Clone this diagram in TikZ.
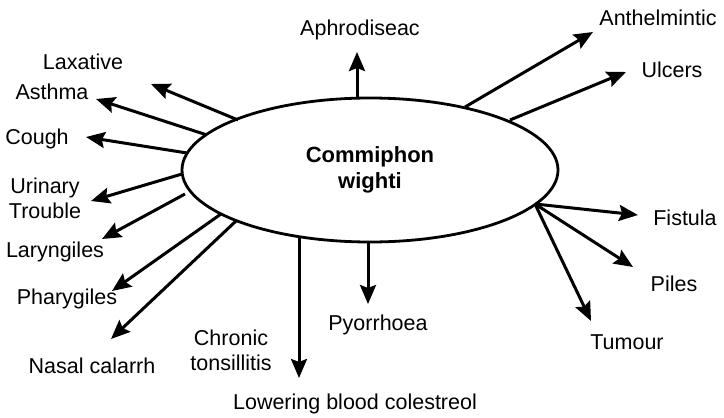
\documentclass[tikz,border=0pt]{standalone}
\usepackage{fontspec}
\setmainfont{Liberation Sans}
\usetikzlibrary{shapes.geometric,arrows.meta}
\begin{document}
\begin{tikzpicture}[x=1pt,y=-1pt,
  lbl/.style={font=\fontsize{21.5}{25}\selectfont, align=center, inner sep=0pt},
  arr/.style={line width=3pt, -{Stealth[length=19pt,width=16pt,inset=3pt]}},
  hub/.style={ellipse, draw, line width=2.8pt, minimum width=376pt, minimum height=144pt, inner sep=0pt,
              font=\bfseries\fontsize{22}{26}\selectfont, align=center}]
\useasboundingbox (0,0) rectangle (724,418);
\node[hub] (E) at (370,170) {Commiphon\\wighti};

% labels
\node[lbl] (aph) at (360,30) {Aphrodiseac};
\node[lbl] (ant) at (658,18) {Anthelmintic};
\node[lbl] (ulc) at (672,70) {Ulcers};
\node[lbl] (fis) at (685,218) {Fistula};
\node[lbl] (pil) at (674,284) {Piles};
\node[lbl] (tum) at (627,342) {Tumour};
\node[lbl] (pyo) at (378,325) {Pyorrhoea};
\node[lbl] (low) at (355,404) {Lowering blood colestreol};
\node[lbl] (chr) at (231,350) {Chronic\\tonsillitis};
\node[lbl] (nas) at (92,366) {Nasal calarrh};
\node[lbl] (pha) at (67,299) {Pharygiles};
\node[lbl] (lar) at (55,252) {Laryngiles};
\node[lbl] (uri) at (45,198) {Urinary\\Trouble};
\node[lbl] (cou) at (37,139) {Cough};
\node[lbl] (ast) at (52,92) {Asthma};
\node[lbl] (lax) at (83,62) {Laxative};

% start points on the ellipse
\coordinate (sAph) at (357,98);
\coordinate (sAnt) at (465,107);
\coordinate (sUlc) at (510,120);
\coordinate (sRt)  at (535,204);
\coordinate (sPyo) at (368,242);
\coordinate (sLow) at (299,237);
\coordinate (sNas) at (236,221);
\coordinate (sPha) at (221,214);
\coordinate (sLar) at (185,194);
\coordinate (sUri) at (182,174);
\coordinate (sCou) at (187,153);
\coordinate (sAst) at (207,135);
\coordinate (sLax) at (238,120);

% tips
\coordinate (tAph) at (357,52);
\coordinate (tAnt) at (593,32);
\coordinate (tUlc) at (626,72);
\coordinate (tFis) at (638,215);
\coordinate (tPil) at (633,267);
\coordinate (tTum) at (591,321);
\coordinate (tPyo) at (368,304);
\coordinate (tLow) at (299,378);
\coordinate (tNas) at (111,339);
\coordinate (tPha) at (112,291);
\coordinate (tLar) at (102,239);
\coordinate (tUri) at (91,201);
\coordinate (tCou) at (86,137);
\coordinate (tAst) at (96,99);
\coordinate (tLax) at (151,84);

\foreach \s/\t in {Aph/Aph,Ant/Ant,Ulc/Ulc,Rt/Fis,Rt/Pil,Rt/Tum,Pyo/Pyo,Low/Low,Nas/Nas,Pha/Pha,Lar/Lar,Uri/Uri,Cou/Cou,Ast/Ast,Lax/Lax}
  \draw[arr] (s\s) -- (t\t);
\end{tikzpicture}
\end{document}
